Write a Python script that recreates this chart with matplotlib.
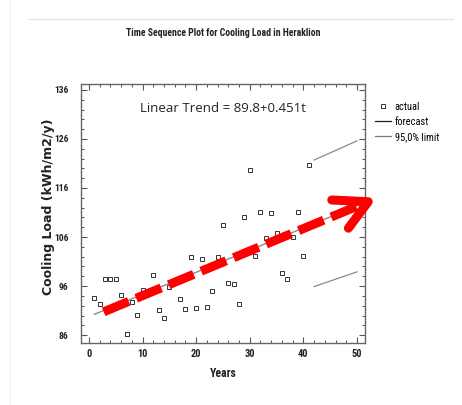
import matplotlib
matplotlib.use("Agg")
import matplotlib.pyplot as plt
from matplotlib.lines import Line2D
from matplotlib.ticker import MultipleLocator

# observed cooling load (kWh/m2/y), years 1..41
years = list(range(1, 42))
load = [93.5, 92.4, 97.4, 97.4, 97.5, 94.1, 86.3, 92.8, 90.2, 95.2,
        95.0, 98.2, 91.1, 89.4, 95.9, 97.0, 93.3, 91.4, 101.9, 91.6,
        101.6, 91.7, 95.0, 101.9, 108.5, 96.6, 96.4, 92.4, 110.1, 119.7,
        102.1, 111.1, 105.8, 111.0, 106.8, 98.7, 97.4, 106.1, 111.1, 102.2,
        120.6]

# linear trend shown on the chart
trend_a = 89.8
trend_b = 0.451
trend_t = [1, 51.5]

# 95% forecast limits
limit_t = [42, 50]
upper = [121.7, 125.6]
lower = [95.9, 98.9]

narrow = ['Liberation Sans Narrow', 'Roboto Condensed', 'DejaVu Sans']

fig = plt.figure(figsize=(4.62, 4.05), dpi=100)
ax = fig.add_axes([0.1753, 0.1531, 0.6147, 0.6395])

ax.plot(trend_t, [trend_a + trend_b * t for t in trend_t], color='#8a8a8a', lw=1.0, label='forecast')
ax.plot(limit_t, upper, color='#8a8a8a', lw=0.9, label='95,0% limit')
ax.plot(limit_t, lower, color='#8a8a8a', lw=0.9)
ax.plot(years, load, 's', ms=3.2, mfc='none', mec='#333333', mew=0.7, label='actual')

ax.set_xlim(-1.5, 51.5)
ax.set_ylim(84.4, 137.2)
ax.set_xticks(range(0, 51, 10))
ax.set_yticks(range(86, 137, 10))
ax.xaxis.set_minor_locator(MultipleLocator(2))
ax.yaxis.set_minor_locator(MultipleLocator(2))
ax.tick_params(which='both', direction='in', top=True, right=True, colors='#555555',
               labelcolor='#222222', labelsize=7.5)
ax.tick_params(which='major', length=4, width=0.8, pad=4)
ax.tick_params(which='minor', length=2.5, width=0.7)
ax.tick_params(axis='y', which='major', pad=9, labelsize=6.8)
for lab in ax.get_xticklabels() + ax.get_yticklabels():
    lab.set_family(narrow)
    lab.set_fontweight('bold')
for s in ax.spines.values():
    s.set_color('#666666')
    s.set_linewidth(1.0)

ax.set_xlabel('Years', family=narrow, fontsize=8.5, fontweight='bold', color='#222222', labelpad=6)
ax.set_ylabel('Cooling Load (kWh/m2/y)', fontweight='bold', fontsize=9, color='#222222',
              family='DejaVu Sans')
ax.yaxis.set_label_coords(-0.092, 0.527)

ax.text(0.5, 0.905, 'Linear Trend = 89.8+0.451t', transform=ax.transAxes, ha='center',
        va='center', fontsize=9.5, family=['Open Sans', 'DejaVu Sans'], color='#222222')

fig.text(0.483, 0.918, 'Time Sequence Plot for Cooling Load in Heraklion', ha='center',
         va='center', fontsize=7, fontweight='bold', family=narrow, color='#222222')

# decoration lines of the page
fig.add_artist(Line2D([29 / 462, 453 / 462], [1 - 19 / 405] * 2, color='#e0e0e0', lw=0.8))
fig.add_artist(Line2D([10 / 462] * 2, [0, 1], color='#eeeeee', lw=0.8))

# legend
h = [Line2D([], [], ls='none', marker='s', ms=3.2, mfc='none', mec='#333333', mew=0.7),
     Line2D([], [], color='#222222', lw=0.9),
     Line2D([], [], color='#777777', lw=0.9)]
fig.legend(h, ['actual', 'forecast', '95,0% limit'], loc='upper left',
           bbox_to_anchor=(0.791, 0.772), frameon=False, handlelength=1.6,
           handletextpad=0.3, labelspacing=0.5, prop={'family': narrow, 'size': 7.5})

# red dashed arrow drawn over the chart
ax.plot([2.74, 50.5], [90.75, 112.5], color='red', lw=6.5, ls=(0, (3.0, 0.9)),
        solid_capstyle='butt', dash_capstyle='butt', clip_on=False, zorder=5)
ax.plot([45.3, 52.1, 48.4], [113.55, 113.2, 107.8], color='red', lw=6.5,
        solid_capstyle='round', solid_joinstyle='round', clip_on=False, zorder=5)

fig.savefig('out.png', dpi=100, facecolor='white')
